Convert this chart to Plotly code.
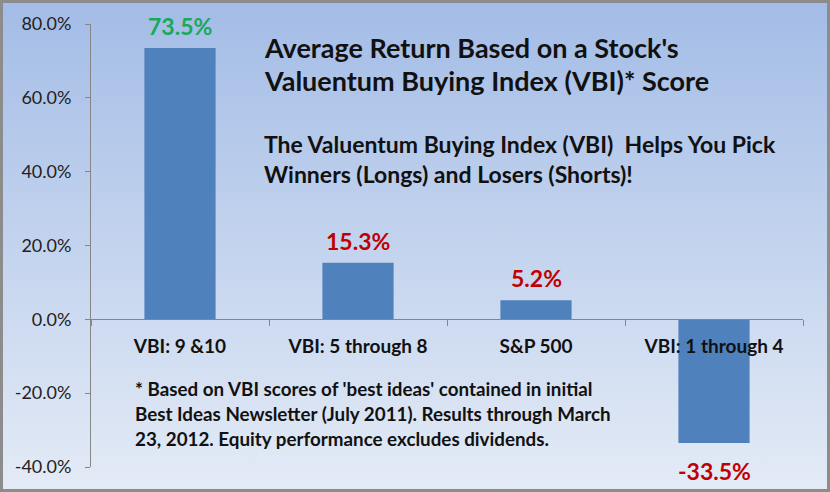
import base64
import plotly.graph_objects as go

categories = ["VBI: 9 &10", "VBI: 5 through 8", "S&P 500", "VBI: 1 through 4"]
returns = [73.5, 15.3, 5.2, -33.5]
label_colors = ["#1aa85a", "#c00000", "#c00000", "#c00000"]
y_ticks = [-40, -20, 0, 20, 40, 60, 80]

title_lines = ["Average Return Based on a Stock's",
               "Valuentum Buying Index (VBI)* Score"]
subtitle_lines = ["The Valuentum Buying Index (VBI)  Helps You Pick",
                  "Winners (Longs) and Losers (Shorts)!"]
note_lines = ["* Based on VBI scores of 'best ideas' contained in initial",
              "Best Ideas Newsletter (July 2011). Results through March",
              "23, 2012. Equity performance excludes dividends."]

W, H = 830, 492
L, R, T, B = 91, 27, 24, 25
PW, PH = W - L - R, H - T - B
FONT = "Lato"

def px_x(x):
    return (x - L) / PW

def px_y(y):
    return (H - B - y) / PH

# gradient background with grey frame, as an svg image
svg = f"""<svg xmlns='http://www.w3.org/2000/svg' width='{W}' height='{H}'>
<defs><linearGradient id='g' x1='0' y1='0' x2='0' y2='1'>
<stop offset='0' stop-color='#a3bce6'/><stop offset='1' stop-color='#e4ebf6'/>
</linearGradient></defs>
<rect x='0' y='0' width='{W}' height='{H}' fill='url(#g)'/>
<rect x='1.5' y='1.5' width='{W-3}' height='{H-3}' fill='none' stroke='#8c8c8c' stroke-width='3'/>
</svg>"""
bg = "data:image/svg+xml;base64," + base64.b64encode(svg.encode()).decode()

fig = go.Figure(go.Bar(
    x=categories, y=returns,
    marker=dict(color="#4f81bd", line=dict(width=0)),
    hoverinfo="skip",
))

annotations = []
# value labels
for cat, val, col in zip(categories, returns, label_colors):
    annotations.append(dict(
        text=f"{val:.1f}%", x=cat, y=val, xref="x", yref="y",
        yanchor="bottom" if val >= 0 else "top",
        yshift=6 if val >= 0 else -12,
        font=dict(family=FONT, size=23, color=col, weight="bold"),
        showarrow=False))

texts = []
for i, line in enumerate(title_lines):
    texts.append(dict(text=line, x=px_x(262), y=px_y(47 + i * 34),
                      font=dict(size=27, weight="bold")))
for i, line in enumerate(subtitle_lines):
    texts.append(dict(text=line, x=px_x(262), y=px_y(144 + i * 30),
                      font=dict(size=23, weight="bold")))
for i, line in enumerate(note_lines):
    texts.append(dict(text=line, x=px_x(133), y=px_y(388 + i * 25),
                      font=dict(size=18.8, weight="bold")))
for a in texts:
    a.update(xref="paper", yref="paper", xanchor="left", yanchor="middle",
             showarrow=False)
    a["font"].update(family=FONT, color="#111111")
annotations += texts

fig.update_layout(
    width=W, height=H,
    margin=dict(l=L, r=R, t=T, b=B),
    paper_bgcolor="#dce6f2",
    plot_bgcolor="rgba(0,0,0,0)",
    bargap=0.6,
    showlegend=False,
    annotations=annotations,
    images=[dict(source=bg, xref="paper", yref="paper",
                 x=-L / PW, y=1 + T / PH, sizex=W / PW, sizey=H / PH,
                 xanchor="left", yanchor="top", sizing="stretch",
                 layer="below")],
    xaxis=dict(
        type="category", anchor="free", position=px_y(319),
        showline=True, linecolor="#868686", linewidth=1,
        ticks="outside", ticklen=6, tickcolor="#868686", tickson="boundaries",
        tickfont=dict(family=FONT, size=19, color="#111111", weight="bold"),
        ticklabelstandoff=10,
        showgrid=False, zeroline=False,
    ),
    yaxis=dict(
        range=[-40, 80], tickvals=y_ticks,
        ticktext=[f"{v:.1f}%" for v in y_ticks],
        showline=True, linecolor="#868686", linewidth=1,
        ticks="outside", ticklen=5, tickcolor="#868686",
        tickfont=dict(family=FONT, size=18, color="#222222"),
        ticklabelstandoff=10,
        showgrid=False, zeroline=False,
    ),
)

fig.write_html("out.html", config={"displayModeBar": False}, post_script=(
    "document.documentElement.style.margin='0';"
    "document.body.style.margin='0';document.body.style.overflow='hidden';"))
